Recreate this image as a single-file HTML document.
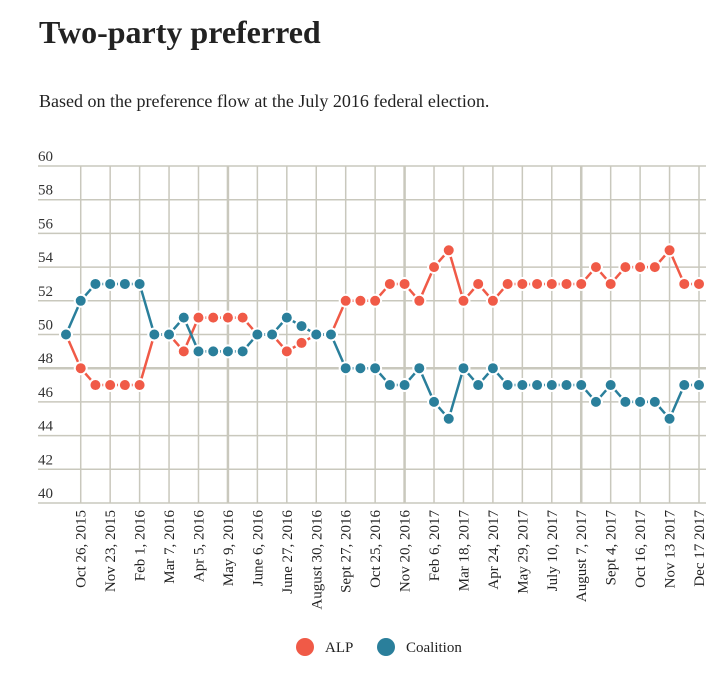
<!DOCTYPE html>
<html><head><meta charset="utf-8"><style>
body{margin:0;background:#fff;font-family:"Liberation Serif",serif;color:#222}
h1{position:absolute;left:39px;top:14px;margin:0;font-size:32px;font-weight:bold}
p{position:absolute;left:39px;top:91px;margin:0;font-size:18px}
svg{position:absolute;left:0;top:0}
</style></head><body>
<h1>Two-party preferred</h1>
<p>Based on the preference flow at the July 2016 federal election.</p>
<svg id="c" width="722" height="681"></svg>
<script>
const alp=[50,48,47,47,47,47,50,50,49,51,51,51,51,50,50,49,49.5,50,50,52,52,52,53,53,52,54,55,52,53,52,53,53,53,53,53,53,54,53,54,54,54,55,53,53];
const coalition=[50,52,53,53,53,53,50,50,51,49,49,49,49,50,50,51,50.5,50,50,48,48,48,47,47,48,46,45,48,47,48,47,47,47,47,47,47,46,47,46,46,46,45,47,47];
const dateLabels=["Oct 26, 2015","Nov 23, 2015","Feb 1, 2016","Mar 7, 2016","Apr 5, 2016","May 9, 2016","June 6, 2016","June 27, 2016","August 30, 2016","Sept 27, 2016","Oct 25, 2016","Nov 20, 2016","Feb 6, 2017","Mar 18, 2017","Apr 24, 2017","May 29, 2017","July 10, 2017","August 7, 2017","Sept 4, 2017","Oct 16, 2017","Nov 13 2017","Dec 17 2017"];
const yTicks=[40,42,44,46,48,50,52,54,56,58,60];
const NS="http://www.w3.org/2000/svg",svg=document.getElementById('c');
const x=i=>66+i*(699-66)/(alp.length-1);
const y=v=>503-(v-40)*(503-166)/20;
function mk(t,a,p){const e=document.createElementNS(NS,t);for(const k in a)e.setAttribute(k,a[k]);(p||svg).appendChild(e);return e;}
const grid=mk('g',{});


yTicks.forEach(v=>{
 mk('line',{x1:38,x2:706,y1:y(v),y2:y(v),stroke:'#c9c8bd','stroke-width':v==48?2.5:1.5},grid);
 const t=mk('text',{x:38,y:y(v)-5,'font-size':15,fill:'#333'});t.textContent=v;
 
 
});
dateLabels.forEach((d,k)=>{
 const i=2*k+1,xx=x(i),thick=(d=="May 9, 2016"||d=="Nov 20, 2016"||d=="August 7, 2017");
 mk('line',{x1:xx,x2:xx,y1:y(60),y2:y(40),stroke:'#c9c8bd','stroke-width':thick?2.5:1.5},grid);
 const t=mk('text',{x:0,y:0,'font-size':15,fill:'#222','text-anchor':'end',transform:`translate(${xx+5},510) rotate(-90)`});
 t.textContent=d;
 
 
});
function series(data,col,name){
 const g=mk('g',{});
 
 
 mk('path',{d:data.map((v,i)=>(i?'L':'M')+x(i)+','+y(v)).join(''),fill:'none',stroke:col,'stroke-width':2.5},g);
 data.forEach((v,i)=>{const c=mk('circle',{cx:x(i),cy:y(v),r:6,fill:col,stroke:'#fff','stroke-width':2},g);
 
 });
}
series(alp,'#f05a47','alp');
series(coalition,'#2a7f9b','coalition');
const lg=mk('g',{});


[['ALP','#f05a47',305],['Coalition','#2a7f9b',386]].forEach(([n,c,lx])=>{
 const e=mk('circle',{cx:lx,cy:647,r:9,fill:c},lg);
 
 
 const t=mk('text',{x:lx+20,y:652,'font-size':15,fill:'#222'},lg);t.textContent=n;
 
 
});
</script>
</body></html>
